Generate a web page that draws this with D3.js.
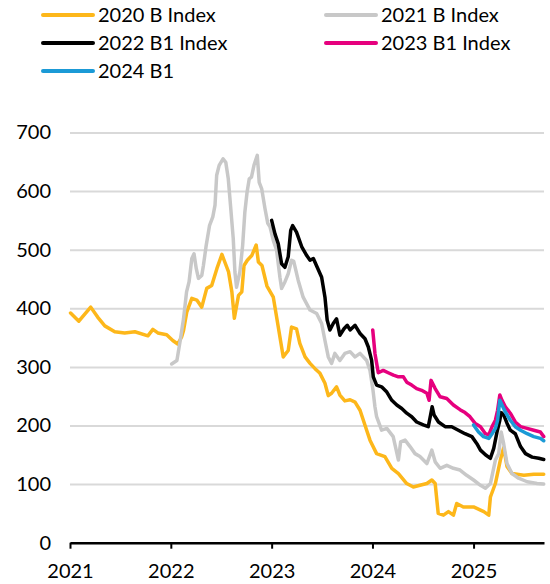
<!DOCTYPE html>
<html>
<head>
<meta charset="utf-8">
<script src="https://cdn.jsdelivr.net/npm/d3@7"></script>
<style>
  body { margin: 0; background: #fff; }
  svg { display: block; }
  text { font-family: Lato, "Open Sans", sans-serif; fill: #000; }
</style>
</head>
<body>
<svg id="chart" width="550" height="584"></svg>
<script>
// Series: [date, index value]
const idx2020B = [
  ["2021-01-03",392],["2021-02-02",378],["2021-03-17",402],["2021-04-11",385],["2021-05-07",370],
  ["2021-06-12",360],["2021-07-18",358],["2021-08-24",360],["2021-10-10",353],["2021-10-28",364],
  ["2021-11-15",358],["2021-12-17",355],["2022-01-08",345],["2022-01-26",339],["2022-02-09",351],
  ["2022-02-16",362],["2022-02-28",394],["2022-03-18",417],["2022-04-05",414],["2022-04-23",402],
  ["2022-05-11",434],["2022-05-29",439],["2022-06-17",468],["2022-07-05",492],["2022-07-13",482],
  ["2022-07-29",462],["2022-08-10",428],["2022-08-19",383],["2022-09-03",422],["2022-09-15",428],
  ["2022-09-23",473],["2022-10-05",482],["2022-10-21",490],["2022-11-06",508],["2022-11-14",479],
  ["2022-11-27",473],["2022-12-15",438],["2023-01-07",419],["2023-01-25",368],["2023-02-12",317],
  ["2023-03-02",328],["2023-03-14",368],["2023-04-01",365],["2023-04-13",340],["2023-05-02",317],
  ["2023-05-20",306],["2023-06-07",297],["2023-06-25",289],["2023-07-13",272],["2023-07-25",251],
  ["2023-08-06",255],["2023-08-24",266],["2023-09-05",252],["2023-09-23",242],["2023-10-12",244],
  ["2023-10-30",240],["2023-11-17",226],["2023-12-11",192],["2023-12-23",175],["2024-01-16",152],
  ["2024-02-15",147],["2024-03-11",127],["2024-04-04",118],["2024-05-04",101],["2024-05-28",95],
  ["2024-06-21",98],["2024-07-16",101],["2024-08-03",107],["2024-08-15",101],["2024-08-26",50],
  ["2024-09-14",47],["2024-10-02",53],["2024-10-20",47],["2024-11-01",67],["2024-11-25",61],
  ["2025-01-01",61],["2025-02-07",53],["2025-02-25",47],["2025-03-03",78],["2025-03-21",101],
  ["2025-04-08",141],["2025-04-20",162],["2025-05-02",130],["2025-05-20",118],["2025-07-02",115],
  ["2025-08-07",117],["2025-09-12",117]
];

const idx2021B = [
  ["2022-01-04",305],["2022-01-23",311],["2022-02-04",345],["2022-02-16",382],["2022-02-27",428],
  ["2022-03-08",445],["2022-03-18",485],["2022-03-26",493],["2022-04-03",468],["2022-04-11",451],
  ["2022-04-23",456],["2022-04-29",473],["2022-05-09",507],["2022-05-21",541],["2022-06-02",556],
  ["2022-06-10",576],["2022-06-16",627],["2022-06-25",644],["2022-07-09",655],["2022-07-19",649],
  ["2022-07-28",621],["2022-08-05",576],["2022-08-15",519],["2022-08-21",462],["2022-08-27",436],
  ["2022-09-08",462],["2022-09-18",507],["2022-09-26",564],["2022-10-04",598],["2022-10-12",621],
  ["2022-10-20",624],["2022-10-29",644],["2022-11-10",661],["2022-11-17",615],["2022-11-26",604],
  ["2022-12-08",570],["2022-12-18",545],["2022-12-26",539],["2023-01-07",516],["2023-01-19",499],
  ["2023-01-31",453],["2023-02-06",434],["2023-02-18",445],["2023-03-02",459],["2023-03-14",482],
  ["2023-03-22",480],["2023-04-07",448],["2023-04-25",419],["2023-05-20",397],["2023-06-13",391],
  ["2023-07-01",374],["2023-07-13",345],["2023-07-25",317],["2023-08-06",306],["2023-08-18",323],
  ["2023-09-05",311],["2023-09-23",323],["2023-10-12",326],["2023-10-30",317],["2023-11-17",323],
  ["2023-12-11",311],["2023-12-23",294],["2024-01-03",260],["2024-01-10",232],["2024-01-16",215],
  ["2024-02-03",192],["2024-02-22",195],["2024-03-16",181],["2024-04-04",141],["2024-04-12",172],
  ["2024-04-28",175],["2024-05-16",164],["2024-06-03",152],["2024-06-21",147],["2024-07-16",135],
  ["2024-08-03",158],["2024-08-15",138],["2024-09-02",127],["2024-09-26",132],["2024-10-20",127],
  ["2024-11-13",124],["2024-12-07",115],["2025-01-01",107],["2025-01-26",98],["2025-02-13",93],
  ["2025-03-03",101],["2025-03-21",141],["2025-04-02",152],["2025-04-11",189],["2025-04-20",169],
  ["2025-05-02",135],["2025-05-20",118],["2025-06-13",110],["2025-07-14",104],["2025-08-19",101],
  ["2025-09-12",100]
];

const idx2022B1 = [
  ["2023-01-01",550],["2023-01-13",527],["2023-01-25",510],["2023-02-06",476],["2023-02-18",470],
  ["2023-03-02",488],["2023-03-11",533],["2023-03-18",541],["2023-04-01",530],["2023-04-20",505],
  ["2023-05-08",490],["2023-05-20",482],["2023-06-01",485],["2023-06-15",470],["2023-07-01",453],
  ["2023-07-13",419],["2023-07-21",380],["2023-07-31",363],["2023-08-12",374],["2023-08-24",382],
  ["2023-09-05",354],["2023-09-20",365],["2023-10-02",371],["2023-10-12",363],["2023-10-30",371],
  ["2023-11-17",357],["2023-12-05",348],["2023-12-17",334],["2023-12-29",311],["2024-01-04",283],
  ["2024-01-16",269],["2024-02-03",266],["2024-02-22",257],["2024-03-11",243],["2024-03-29",235],
  ["2024-04-16",229],["2024-05-04",221],["2024-05-22",215],["2024-06-09",206],["2024-07-03",201],
  ["2024-07-21",198],["2024-07-27",212],["2024-08-04",232],["2024-08-11",218],["2024-08-27",206],
  ["2024-09-20",198],["2024-10-14",198],["2024-11-07",192],["2024-12-01",186],["2024-12-26",181],
  ["2025-01-13",169],["2025-01-26",158],["2025-02-13",150],["2025-03-03",144],["2025-03-15",161],
  ["2025-03-27",189],["2025-04-06",209],["2025-04-11",222],["2025-04-20",218],["2025-05-02",204],
  ["2025-05-14",192],["2025-06-01",186],["2025-06-20",164],["2025-07-08",152],["2025-08-01",146],
  ["2025-08-25",144],["2025-09-12",142]
];

const idx2023B1 = [
  ["2024-01-02",363],["2024-01-10",323],["2024-01-22",290],["2024-02-09",294],["2024-02-27",290],
  ["2024-03-17",286],["2024-04-04",283],["2024-04-22",283],["2024-05-04",274],["2024-05-22",269],
  ["2024-06-09",263],["2024-06-27",260],["2024-07-16",255],["2024-07-24",243],["2024-07-31",277],
  ["2024-08-15",263],["2024-09-02",249],["2024-09-26",246],["2024-10-20",235],["2024-11-13",227],
  ["2024-12-01",222],["2024-12-19",215],["2025-01-06",204],["2025-01-26",198],["2025-02-13",186],
  ["2025-02-25",184],["2025-03-09",198],["2025-03-21",209],["2025-03-29",226],["2025-04-06",252],
  ["2025-04-14",243],["2025-04-26",232],["2025-05-14",221],["2025-06-01",206],["2025-06-20",198],
  ["2025-07-14",195],["2025-08-07",192],["2025-08-31",189],["2025-09-12",181]
];

const idx2024B1 = [
  ["2025-01-01",201],["2025-01-19",189],["2025-02-06",181],["2025-02-25",178],["2025-03-09",186],
  ["2025-03-21",195],["2025-03-29",209],["2025-04-06",243],["2025-04-14",235],["2025-04-26",223],
  ["2025-05-14",209],["2025-06-01",198],["2025-06-20",192],["2025-07-14",186],["2025-08-07",181],
  ["2025-08-31",178],["2025-09-12",174]
];

const seriesNames  = ["2020 B Index", "2021 B Index", "2022 B1 Index", "2023 B1 Index", "2024 B1"];
const seriesColors = ["#FDB71A", "#C8C8C8", "#000000", "#E6007E", "#1B9AD6"];
const seriesData   = [idx2020B, idx2021B, idx2022B1, idx2023B1, idx2024B1];

const yTicks = [0, 100, 200, 300, 400, 500, 600, 700];
const xTickYears = ["2021", "2022", "2023", "2024", "2025"];

const parse = d3.utcParse("%Y-%m-%d");
const svg = d3.select("#chart");

const plotLeft = 70, plotRight = 544, plotTop = 132.5, plotBottom = 542.7;

const x = d3.scaleUtc()
  .domain([parse("2021-01-01"), parse("2025-09-13")])
  .range([plotLeft, plotRight]);
const y = d3.scaleLinear().domain([0, 700]).range([plotBottom, plotTop]);

// Horizontal gridlines with value labels
const yAxis = svg.append("g")
  .attr("transform", `translate(${plotLeft},0)`)
  .call(d3.axisLeft(y).tickValues(yTicks).tickSize(-(plotRight - plotLeft)).tickPadding(19)
    .tickFormat(d3.format("d")));
yAxis.select(".domain").remove();
yAxis.selectAll(".tick line").attr("stroke", "#D9D9D9").attr("stroke-width", 2);
yAxis.selectAll(".tick text").style("font-size", "20px").style("font-family", "Lato, sans-serif").attr("fill", "#000");

// Year axis
const xAxis = svg.append("g")
  .attr("transform", `translate(0,${plotBottom})`)
  .call(d3.axisBottom(x).tickValues(xTickYears.map(yr => parse(yr + "-01-01")))
    .tickFormat(d3.utcFormat("%Y")).tickSize(6).tickSizeOuter(0).tickPadding(15));
xAxis.select(".domain").attr("stroke", "#000").attr("stroke-width", 2.5);
xAxis.selectAll(".tick line").attr("stroke", "#000").attr("stroke-width", 2);
xAxis.selectAll(".tick text").style("font-size", "20px").style("font-family", "Lato, sans-serif").attr("fill", "#000");

// Lines
const line = d3.line()
  .x(d => x(parse(d[0])))
  .y(d => y(d[1]));

svg.append("g").selectAll("path")
  .data(seriesData)
  .join("path")
  .attr("d", line)
  .attr("fill", "none")
  .attr("stroke", (d, i) => seriesColors[i])
  .attr("stroke-width", 3.5)
  .attr("stroke-linejoin", "round")
  .attr("stroke-linecap", "round");

// Legend, two columns
const legendCols = [43, 326];
const legend = svg.append("g").selectAll("g")
  .data(seriesNames)
  .join("g")
  .attr("transform", (d, i) => `translate(${legendCols[i % 2]},${15 + 28 * Math.floor(i / 2)})`);
legend.append("line")
  .attr("x1", 0).attr("x2", 50).attr("y1", 0).attr("y2", 0)
  .attr("stroke", (d, i) => seriesColors[i])
  .attr("stroke-width", 4)
  .attr("stroke-linecap", "round");
legend.append("text")
  .attr("x", 55).attr("y", 0).attr("dy", "0.35em")
  .style("font-size", "20px")
  .text(d => d);
</script>
</body>
</html>
